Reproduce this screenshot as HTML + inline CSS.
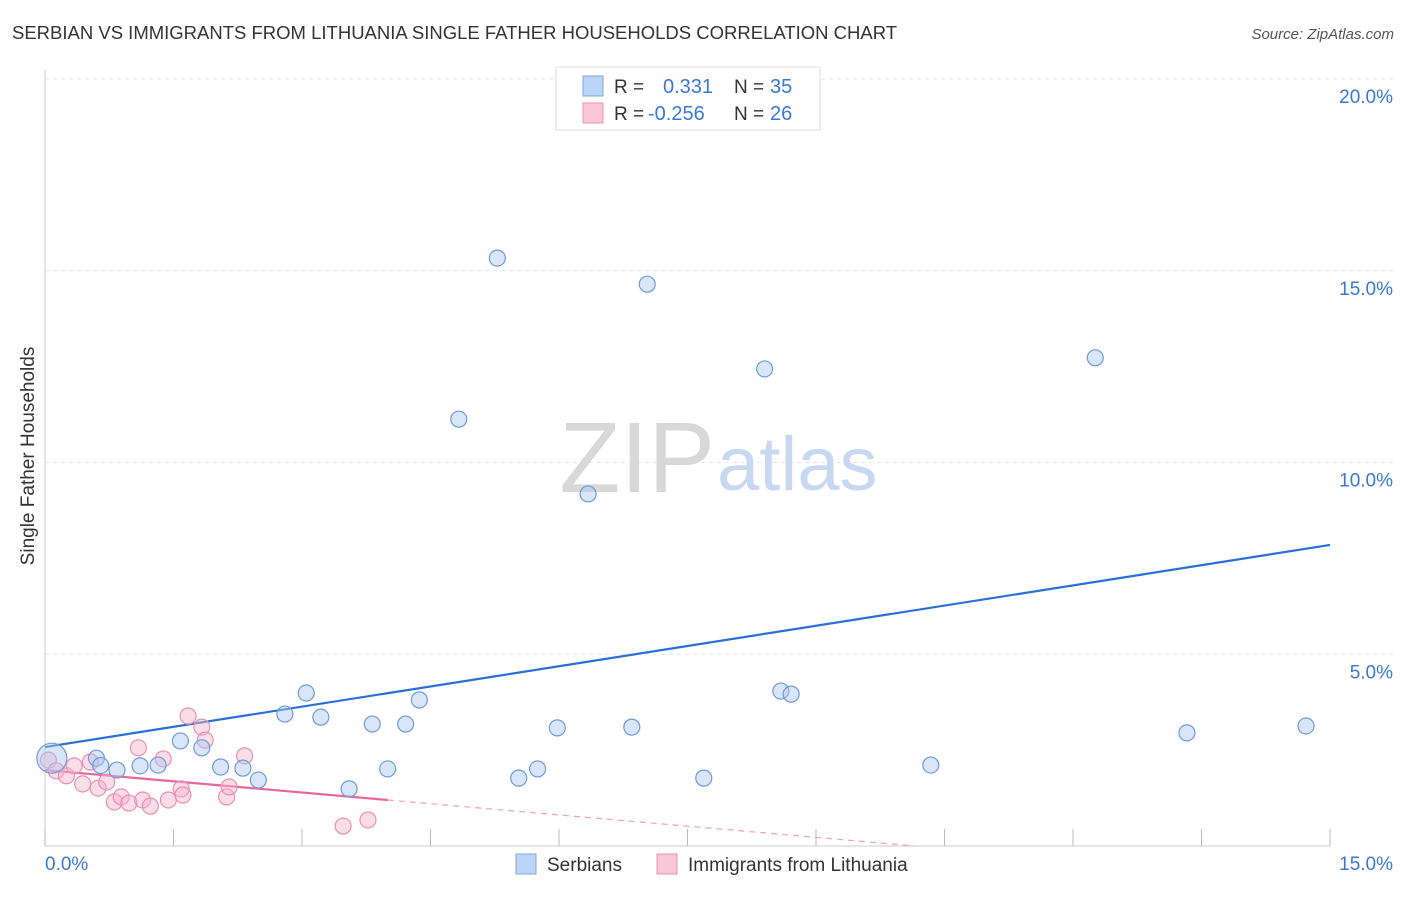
<!DOCTYPE html>
<html><head><meta charset="utf-8"><style>
body{margin:0;background:#fff;font-family:"Liberation Sans",sans-serif;}
svg text{font-family:"Liberation Sans",sans-serif;}
</style></head><body>
<svg id="chart" width="1406" height="892" xmlns="http://www.w3.org/2000/svg">
<text x="12" y="39" font-size="18.5" fill="#333">SERBIAN VS IMMIGRANTS FROM LITHUANIA SINGLE FATHER HOUSEHOLDS CORRELATION CHART</text>
<text x="1394" y="39" font-size="15" fill="#555" font-style="italic" text-anchor="end">Source: ZipAtlas.com</text>
<text x="34" y="456" font-size="19" fill="#333" text-anchor="middle" transform="rotate(-90 34 456)">Single Father Households</text>
<g id="grid"></g>
<text x="715" y="492" font-size="100" fill="#d8d8d8" text-anchor="end" font-family="Liberation Serif">ZIP</text>
<text x="717" y="490" font-size="76" fill="#c8d8f0">atlas</text>
<g id="lines"></g>
<g id="points"></g>
<g>
<rect x="556" y="67" width="264" height="63" fill="#fff" stroke="#ddd"/>
<rect x="583" y="76" width="20" height="20" fill="#bcd4f6" stroke="#7ea6e0"/>
<rect x="583" y="103" width="20" height="20" fill="#f9c8d8" stroke="#ea90b0"/>
<text x="614" y="93" font-size="19" fill="#333">R = </text><text x="663" y="93" font-size="20" fill="#3a78d8">0.331</text>
<text x="734" y="93" font-size="19" fill="#333">N = </text><text x="770" y="93" font-size="20" fill="#3a78d8">35</text>
<text x="614" y="120" font-size="19" fill="#333">R = </text><text x="648" y="120" font-size="20" fill="#3a78d8">-0.256</text>
<text x="734" y="120" font-size="19" fill="#333">N = </text><text x="770" y="120" font-size="20" fill="#3a78d8">26</text>
</g>
<g>
<rect x="516" y="854" width="20" height="20" fill="#bcd4f6" stroke="#7ea6e0"/>
<text x="547" y="871" font-size="19" fill="#333">Serbians</text>
<rect x="657" y="854" width="20" height="20" fill="#f9c8d8" stroke="#ea90b0"/>
<text x="688" y="871" font-size="19" fill="#333">Immigrants from Lithuania</text>
</g>
</svg>
<script>
const xTicks=[0,1.5,3,4.5,6,7.5,9,10.5,12,13.5,15];
const yTicks=[5,10,15,20];
const yTickLabels=["5.0%","10.0%","15.0%","20.0%"];
const serbX=[0.08,0.6,0.65,0.84,1.11,1.32,1.58,1.83,2.05,2.31,2.49,2.8,3.05,3.22,3.55,3.82,4.0,4.21,4.37,4.83,5.28,5.53,5.75,5.98,6.34,6.85,7.03,7.69,8.4,8.59,8.71,10.34,12.26,13.33,14.72];
const serbY=[2.29,2.29,2.1,1.98,2.09,2.11,2.74,2.56,2.06,2.03,1.72,3.44,3.99,3.36,1.49,3.18,2.01,3.18,3.81,11.13,15.33,1.77,2.01,3.08,9.18,3.1,14.65,1.77,12.44,4.04,3.96,2.11,12.73,2.95,3.13];
const lithX=[0.04,0.13,0.25,0.34,0.44,0.53,0.62,0.72,0.81,0.89,0.98,1.09,1.14,1.23,1.38,1.44,1.59,1.61,1.67,1.83,1.87,2.12,2.15,2.33,3.48,3.77];
const lithY=[2.24,1.96,1.83,2.09,1.62,2.19,1.51,1.67,1.15,1.28,1.12,2.56,1.2,1.04,2.27,1.2,1.49,1.33,3.39,3.1,2.76,1.28,1.54,2.35,0.52,0.68];
const serbTrend=[2.58,7.85];
const lithTrend=[1.98,-0.195];
const X=v=>45+v*(1285/15), Y=v=>846-v*38.35;
const NS="http://www.w3.org/2000/svg";
function mk(t,a,p){const e=document.createElementNS(NS,t);for(const k in a)e.setAttribute(k,a[k]);p.appendChild(e);return e;}
const grid=document.getElementById('grid');
mk('line',{x1:45,y1:70,x2:45,y2:846,stroke:'#ccc'},grid);
mk('line',{x1:45,y1:846,x2:1330,y2:846,stroke:'#ccc'},grid);
yTicks.forEach((t,i)=>{
const l=mk('line',{x1:45,y1:Y(t),x2:1395,y2:Y(t),stroke:'#e4e4e4','stroke-dasharray':'4,4'},grid);


const tx=mk('text',{x:1393,y:Y(t)+24,'font-size':19,fill:'#3a78d8','text-anchor':'end'},grid);
tx.textContent=yTickLabels[i];


});
xTicks.forEach(t=>{
const l=mk('line',{x1:X(t),y1:846,x2:X(t),y2:829,stroke:'#bbb'},grid);


});
const x0=mk('text',{x:45,y:870,'font-size':19,fill:'#3a78d8'},grid);x0.textContent="0.0%";


const x1=mk('text',{x:1393,y:870,'font-size':19,fill:'#3a78d8','text-anchor':'end'},grid);x1.textContent="15.0%";


const pts=document.getElementById('points');
lithX.forEach((x,i)=>{
const c=mk('circle',{cx:X(x),cy:Y(lithY[i]),r:8,fill:'rgba(246,180,204,0.45)',stroke:'#e890b2','stroke-width':1.2},pts);


});
serbX.forEach((x,i)=>{
const c=mk('circle',{cx:X(x),cy:Y(serbY[i]),r:i==0?15:8,fill:'rgba(170,200,242,0.45)',stroke:'#6f9ad8','stroke-width':1.2},pts);


});
const ln=document.getElementById('lines');
const b=mk('line',{x1:X(0),y1:Y(serbTrend[0]),x2:X(15),y2:Y(serbTrend[1]),stroke:'#2a6fd6','stroke-width':2.2},ln);


const pe=4.0, pz=-lithTrend[0]/lithTrend[1];
const p=mk('line',{x1:X(0),y1:Y(lithTrend[0]),x2:X(pe),y2:Y(lithTrend[0]+lithTrend[1]*pe),stroke:'#e8679a','stroke-width':2.2},ln);


const pd=mk('line',{x1:X(pe),y1:Y(lithTrend[0]+lithTrend[1]*pe),x2:X(pz),y2:Y(0),stroke:'#eea0bc','stroke-width':1.2,'stroke-dasharray':'6,5'},ln);


</script>
</body></html>
